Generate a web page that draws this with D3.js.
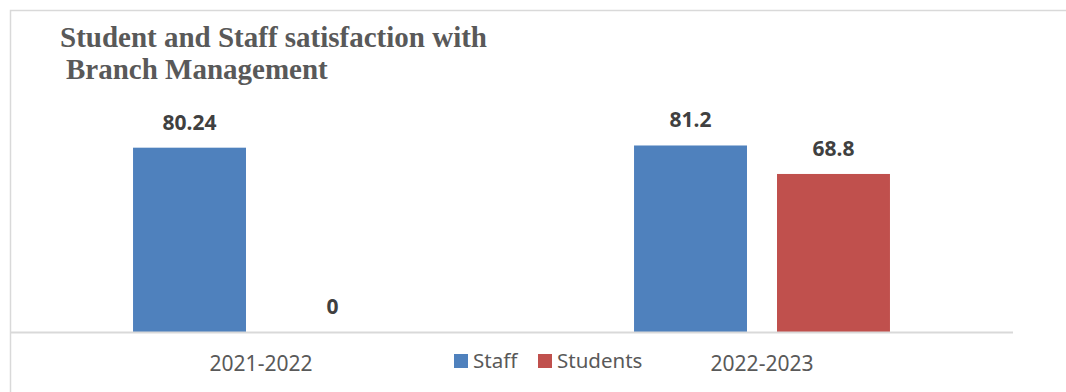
<!DOCTYPE html>
<html>
<head>
<meta charset="utf-8">
<script src="https://cdn.jsdelivr.net/npm/d3@7"></script>
<style>
    body { margin: 0; background: #fff; }
    svg { display: block; }
</style>
</head>
<body>
<div id="chart"></div>
<script>
const categories = ["2021-2022", "2022-2023"];
const series = ["Staff", "Students"];
const staffValues = [80.24, 81.2];
const studentValues = [0, 68.8];
const colors = ["#4f81bd", "#c0504d"];

const width = 1066, height = 392;

const svg = d3.select("#chart").append("svg")
    .attr("width", width)
    .attr("height", height);

// chart frame (only left and top edges are inside the picture)
svg.append("rect")
    .attr("x", 10.5).attr("y", 10.5)
    .attr("width", 1200).attr("height", 500)
    .attr("fill", "none")
    .attr("stroke", "#d9d9d9")
    .attr("stroke-width", 1.5);

const x0 = d3.scaleBand()
    .domain(categories)
    .range([10.5, 1012.5]);

const x1 = d3.scaleBand()
    .domain(series)
    .range([0, x0.bandwidth()])
    .paddingInner(0.21)
    .paddingOuter(0.857);

const y = d3.scaleLinear()
    .domain([0, 100])
    .range([332, 102.3]);

const rows = categories.map((c, i) => ({
    category: c,
    values: [
        {key: series[0], value: staffValues[i]},
        {key: series[1], value: studentValues[i]}
    ]
}));

const color = d3.scaleOrdinal().domain(series).range(colors);

const group = svg.append("g")
  .selectAll("g")
  .data(rows)
  .enter().append("g")
    .attr("transform", d => "translate(" + x0(d.category) + ",0)");

group.selectAll("rect")
    .data(d => d.values)
    .enter().append("rect")
    .attr("x", d => x1(d.key))
    .attr("y", d => y(d.value))
    .attr("width", x1.bandwidth())
    .attr("height", d => y(0) - y(d.value))
    .attr("fill", d => color(d.key));

group.selectAll("text")
    .data(d => d.values)
    .enter().append("text")
    .attr("x", d => x1(d.key) + x1.bandwidth() / 2)
    .attr("y", d => y(d.value) - 18)
    .attr("text-anchor", "middle")
    .attr("font-family", "'Noto Sans', sans-serif")
    .attr("font-weight", "bold")
    .attr("font-size", 21)
    .attr("fill", "#404040")
    .text(d => d.value);

// category axis
const xAxis = svg.append("g")
    .attr("transform", "translate(0," + y(0) + ")")
    .call(d3.axisBottom(x0).tickSize(0).tickPadding(24));

xAxis.select(".domain")
    .attr("stroke", "#d9d9d9")
    .attr("stroke-width", 2);

xAxis.selectAll("text")
    .attr("font-family", "'Noto Sans', sans-serif")
    .attr("font-size", 21)
    .attr("fill", "#595959");

// title
const title = svg.append("text")
    .attr("font-family", "'Liberation Serif', 'Times New Roman', serif")
    .attr("font-weight", "bold")
    .attr("font-size", 29)
    .attr("fill", "#595959");

title.append("tspan").attr("x", 60).attr("y", 47)
    .text("Student and Staff satisfaction with");
title.append("tspan").attr("x", 66).attr("y", 79)
    .text("Branch Management");

// legend
const legend = svg.append("g")
    .attr("transform", "translate(454,354)");

const legendOffsets = [0, 84];

const item = legend.selectAll("g")
    .data(series)
    .enter().append("g")
    .attr("transform", (d, i) => "translate(" + legendOffsets[i] + ",0)");

item.append("rect")
    .attr("width", 14)
    .attr("height", 14)
    .attr("fill", d => color(d));

item.append("text")
    .attr("x", 19)
    .attr("y", 14)
    .attr("font-family", "'Noto Sans', sans-serif")
    .attr("font-size", 20.5)
    .attr("fill", "#595959")
    .text(d => d);
</script>
</body>
</html>
